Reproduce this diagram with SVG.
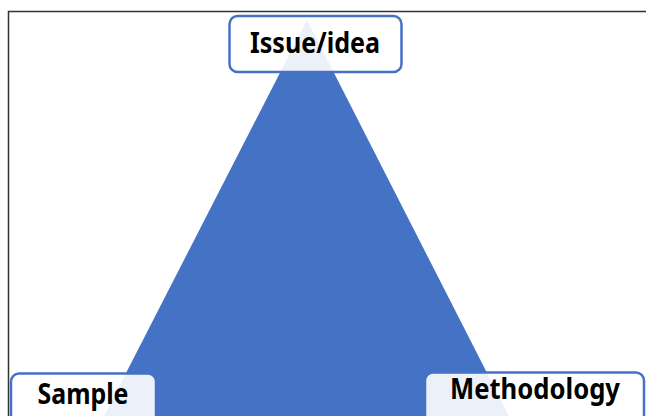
<svg xmlns="http://www.w3.org/2000/svg" width="646" height="416" viewBox="0 0 646 416">
  <style>
    .box { fill: #ffffff; fill-opacity: 0.9; stroke: #4472C4; stroke-width: 2.5; }
    .label { font-family: "Noto Sans", "Open Sans", sans-serif; font-weight: bold; font-size: 29px; fill: #000000; }
  </style>
  <rect x="0" y="0" width="646" height="416" fill="#ffffff"/>
  <!-- frame lines -->
  <path d="M8.5,416 V11.5 H646" fill="none" stroke="#333333" stroke-width="1.5"/>
  <!-- central triangle -->
  <polygon points="307,20 104,416 509,416" fill="#4472C4"/>
  <g id="issue">
    <rect class="box" x="229.5" y="16" width="172" height="56" rx="8"/>
    <text class="label" x="315" y="53" text-anchor="middle" textLength="130" lengthAdjust="spacingAndGlyphs">Issue/idea</text>
  </g>
  <g id="sample">
    <rect class="box" x="11" y="373.5" width="145" height="56" rx="8"/>
    <text class="label" x="83" y="404" text-anchor="middle" textLength="91" lengthAdjust="spacingAndGlyphs">Sample</text>
  </g>
  <g id="methodology">
    <rect class="box" x="425" y="372.5" width="219" height="56" rx="8"/>
    <text class="label" x="535" y="399" text-anchor="middle" textLength="170" lengthAdjust="spacingAndGlyphs">Methodology</text>
  </g>
  <g id="connectors"/>
</svg>
